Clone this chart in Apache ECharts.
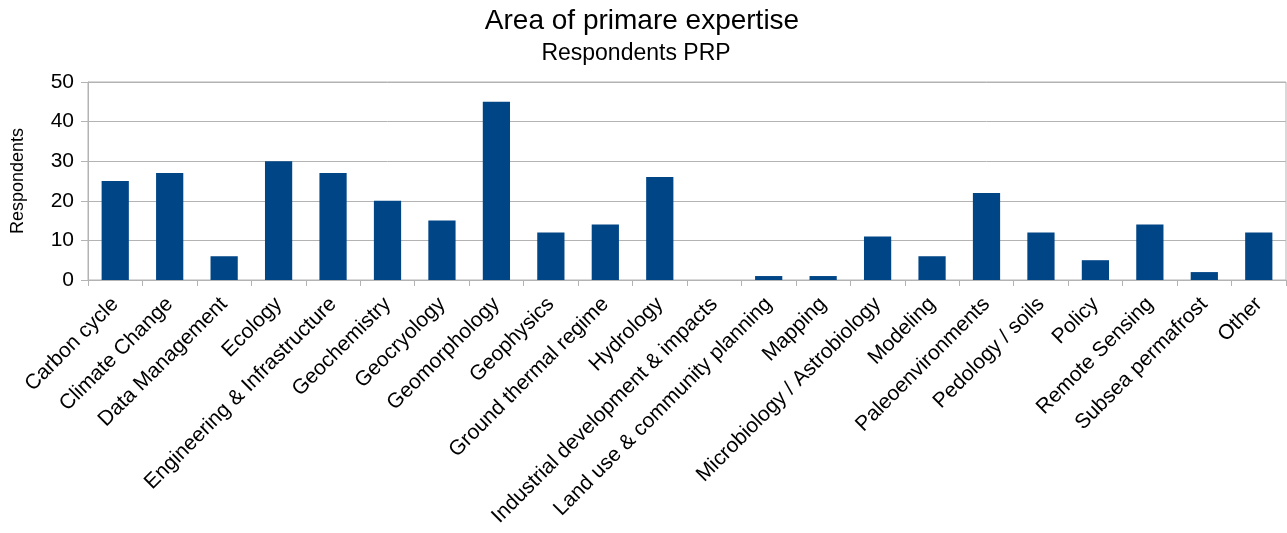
<!DOCTYPE html>
<html>
<head>
<meta charset="utf-8">
<script src="https://cdn.jsdelivr.net/npm/echarts@6/dist/echarts.min.js"></script>
<style>
  html, body { margin: 0; padding: 0; background: #fff; }
  #chart { width: 1287px; height: 533px; }
</style>
</head>
<body>
<div id="chart"></div>
<script>
const areas = [
  "Carbon cycle", "Climate Change", "Data Management", "Ecology",
  "Engineering & Infrastructure", "Geochemistry", "Geocryology", "Geomorphology",
  "Geophysics", "Ground thermal regime", "Hydrology", "Industrial development & impacts",
  "Land use & community planning", "Mapping", "Microbiology / Astrobiology", "Modeling",
  "Paleoenvironments", "Pedology / soils", "Policy", "Remote Sensing",
  "Subsea permafrost", "Other"
];
const respondents = [25, 27, 6, 30, 27, 20, 15, 45, 12, 14, 26, 0, 1, 1, 11, 6, 22, 12, 5, 14, 2, 12];
const yTicks = { min: 0, max: 50, step: 10 };

const font = "'Liberation Sans', Arial, sans-serif";
const gridGray = "#b3b3b3";

const chart = echarts.init(document.getElementById("chart"));

chart.setOption({
  animation: false,
  title: [
    {
      text: "Area of primare expertise",
      left: 637, top: 2, textAlign: "center",
      textStyle: { fontFamily: font, fontSize: 28, fontWeight: "normal", color: "#000" }
    },
    {
      text: "Respondents PRP",
      left: 631, top: 37, textAlign: "center",
      textStyle: { fontFamily: font, fontSize: 23, fontWeight: "normal", color: "#000" }
    }
  ],
  grid: {
    left: 88, right: 1, top: 82, bottom: 253,
    show: true, borderColor: gridGray, borderWidth: 1
  },
  xAxis: {
    type: "category",
    data: areas,
    axisLine: { lineStyle: { color: gridGray, width: 1 } },
    axisTick: { show: true, length: 6, lineStyle: { color: gridGray } },
    axisLabel: {
      interval: 0, rotate: 45, margin: 21,
      fontFamily: font, fontSize: 21, color: "#000"
    }
  },
  yAxis: {
    type: "value",
    min: yTicks.min, max: yTicks.max, interval: yTicks.step,
    name: "Respondents",
    nameLocation: "middle",
    nameGap: 61,
    nameRotate: 90,
    nameTextStyle: { fontFamily: font, fontSize: 18, color: "#000" },
    axisLine: { show: true, lineStyle: { color: gridGray, width: 1 } },
    axisTick: { show: true, length: 7, lineStyle: { color: gridGray } },
    axisLabel: { fontFamily: font, fontSize: 21, color: "#000", margin: 14 },
    splitLine: { lineStyle: { color: gridGray, width: 1 } }
  },
  series: [{
    type: "bar",
    data: respondents,
    barCategoryGap: "50%",
    itemStyle: { color: "#004586" }
  }]
});
</script>
</body>
</html>
